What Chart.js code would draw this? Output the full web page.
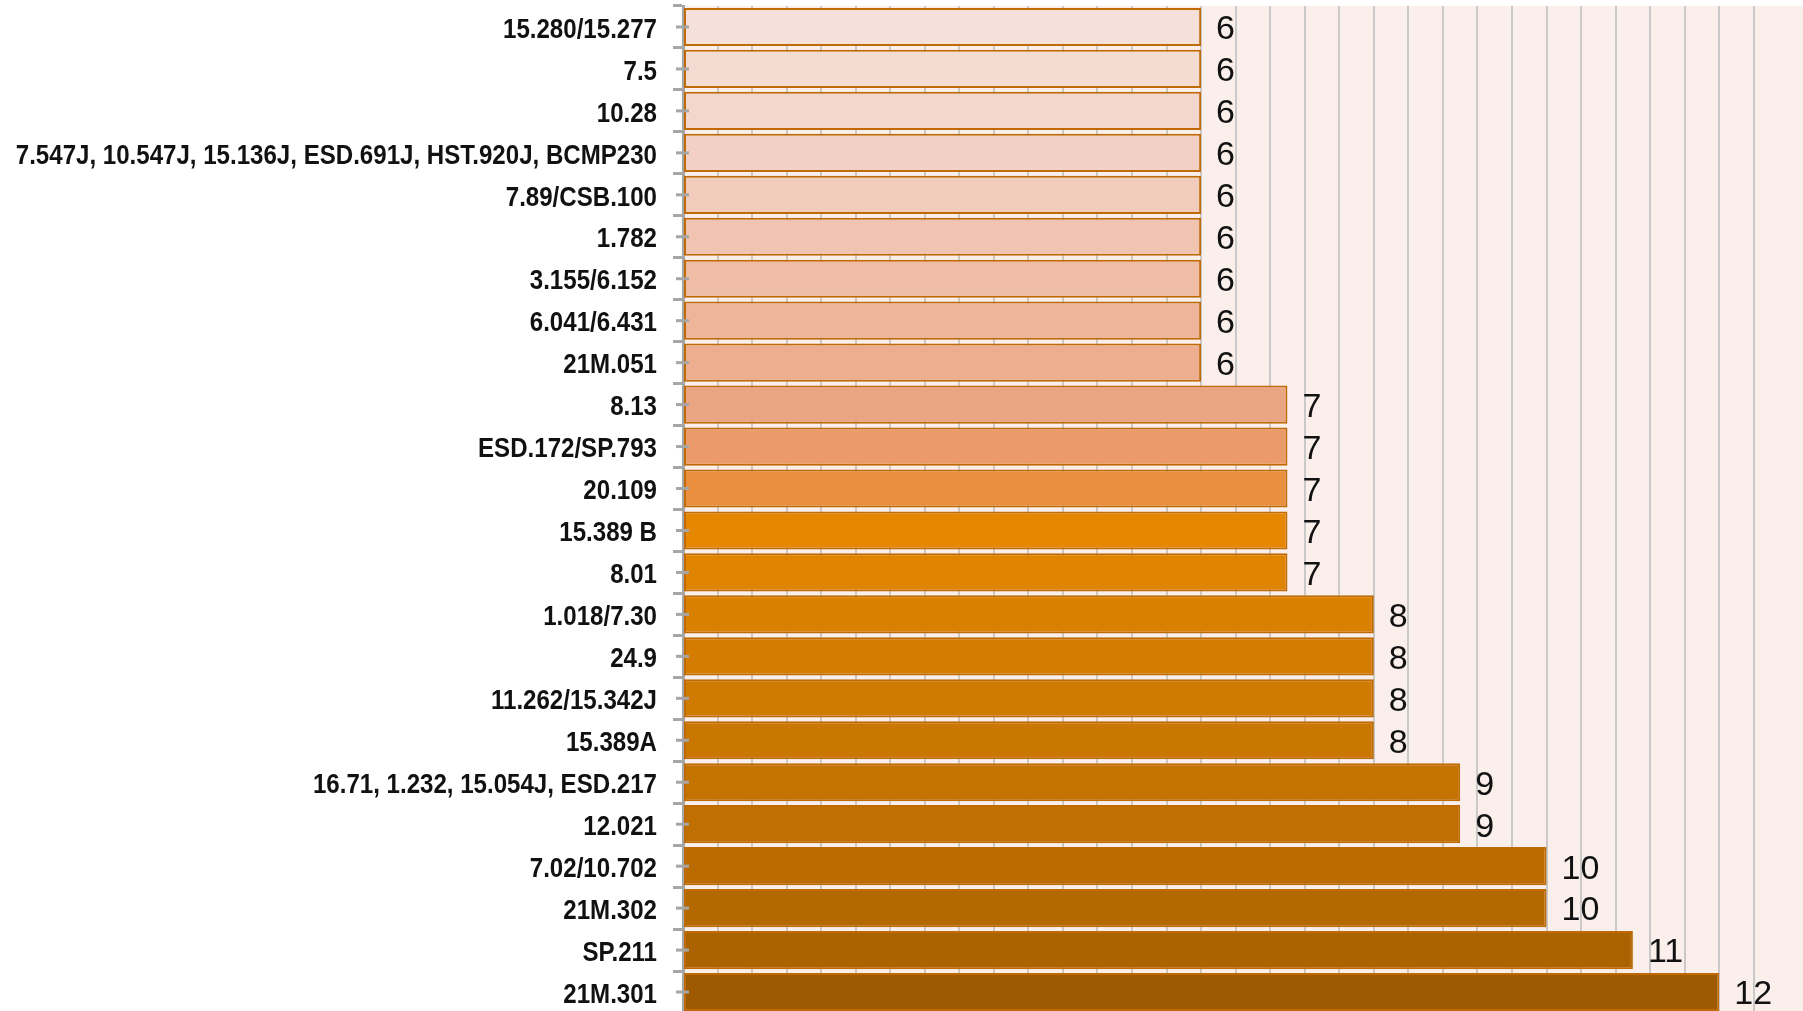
<!DOCTYPE html>
<html>
<head>
<meta charset="utf-8">
<script src="https://cdn.jsdelivr.net/npm/chart.js@4/dist/chart.umd.min.js"></script>
<style>
  html, body { margin: 0; padding: 0; background: #fff; overflow: hidden; }
  #wrap { width: 1803px; height: 1011px; overflow: hidden; }
</style>
</head>
<body>
<div id="wrap"><canvas id="chart" width="1803" height="1013"></canvas></div>
<script>
// categories, top to bottom
const courses = [
  "15.280/15.277", "7.5", "10.28",
  "7.547J, 10.547J, 15.136J, ESD.691J, HST.920J, BCMP230",
  "7.89/CSB.100", "1.782", "3.155/6.152", "6.041/6.431", "21M.051",
  "8.13", "ESD.172/SP.793", "20.109", "15.389 B", "8.01",
  "1.018/7.30", "24.9", "11.262/15.342J", "15.389A",
  "16.71, 1.232, 15.054J, ESD.217", "12.021", "7.02/10.702", "21M.302",
  "SP.211", "21M.301",
];
const counts = [6, 6, 6, 6, 6, 6, 6, 6, 6, 7, 7, 7, 7, 7, 8, 8, 8, 8, 9, 9, 10, 10, 11, 12];
const barColors = [
  "#f5e1da", "#f4dcd3", "#f3d7cc", "#f2d1c4", "#f1cbbb", "#f0c4b0",
  "#efbca5", "#eeb59b", "#edae90", "#eca583", "#eb9b6a", "#e98f3d",
  "#e58800", "#e08400", "#d98000", "#d47c00", "#cf7a00", "#ca7700",
  "#c47300", "#c07000", "#bb6c00", "#b46800", "#ab6200", "#9e5a00",
];

const axisGray = "#a6a6a6";

// pink plot background
const plotBackground = {
  id: "plotBackground",
  beforeDraw(chart) {
    const { ctx, chartArea } = chart;
    ctx.save();
    ctx.fillStyle = "#fbefeb";
    ctx.fillRect(chartArea.left, chartArea.top, chartArea.right - chartArea.left, chartArea.bottom - chartArea.top);
    ctx.restore();
  },
};

// category labels (condensed bold), centre ticks and value labels
const extras = {
  id: "extras",
  afterDatasetsDraw(chart) {
    const { ctx } = chart;
    const y = chart.scales.y;
    ctx.save();
    ctx.strokeStyle = axisGray;
    ctx.lineWidth = 3;
    courses.forEach((c, i) => {
      const py = y.getPixelForValue(i);
      ctx.beginPath();
      ctx.moveTo(y.right - 7, py);
      ctx.lineTo(y.right + 6, py);
      ctx.stroke();
    });

    ctx.fillStyle = "#111";
    ctx.textBaseline = "middle";
    ctx.font = "bold 28px 'Liberation Sans', Arial, sans-serif";
    ctx.textAlign = "right";
    courses.forEach((c, i) => {
      const py = y.getPixelForValue(i);
      ctx.save();
      ctx.translate(y.right - 26, py + 3);
      ctx.scale(0.86, 1);
      ctx.fillText(c, 0, 0);
      ctx.restore();
    });

    ctx.font = "34px 'Liberation Sans', Arial, sans-serif";
    ctx.textAlign = "left";
    chart.getDatasetMeta(0).data.forEach((bar, i) => {
      ctx.fillText(String(counts[i]), bar.x + 15, bar.y + 3);
    });
    ctx.restore();
  },
};

new Chart(document.getElementById("chart"), {
  type: "bar",
  data: {
    labels: courses,
    datasets: [
      {
        data: counts,
        backgroundColor: barColors,
        borderColor: "#c06a06",
        borderWidth: 2,
        borderSkipped: false,
        categoryPercentage: 1,
        barPercentage: 0.91,
      },
    ],
  },
  options: {
    indexAxis: "y",
    responsive: false,
    animation: false,
    layout: { padding: { top: 6, right: 0, bottom: 0, left: 0 } },
    plugins: {
      legend: { display: false },
      tooltip: { enabled: false },
    },
    scales: {
      x: {
        min: 0,
        max: 12.97,
        ticks: { display: false, stepSize: 0.4 },
        border: { display: false },
        grid: {
          drawTicks: false,
          lineWidth: 2,
          color: (c) => {
            const v = c.tick ? c.tick.value / 0.4 : 0.5;
            return Math.abs(v - Math.round(v)) < 1e-6 ? "#c9c9c9" : "rgba(0,0,0,0)";
          },
        },
        afterFit(scale) {
          scale.height = 0;
        },
      },
      y: {
        border: { display: true, color: axisGray, width: 3 },
        grid: {
          drawOnChartArea: false,
          drawTicks: true,
          tickLength: 10,
          tickWidth: 3,
          tickColor: axisGray,
          offset: true,
        },
        ticks: { display: false, autoSkip: false },
        afterFit(scale) {
          scale.width = 683;
          scale.paddingTop = 0;
          scale.paddingBottom = 0;
        },
      },
    },
  },
  plugins: [plotBackground, extras],
});
</script>
</body>
</html>
